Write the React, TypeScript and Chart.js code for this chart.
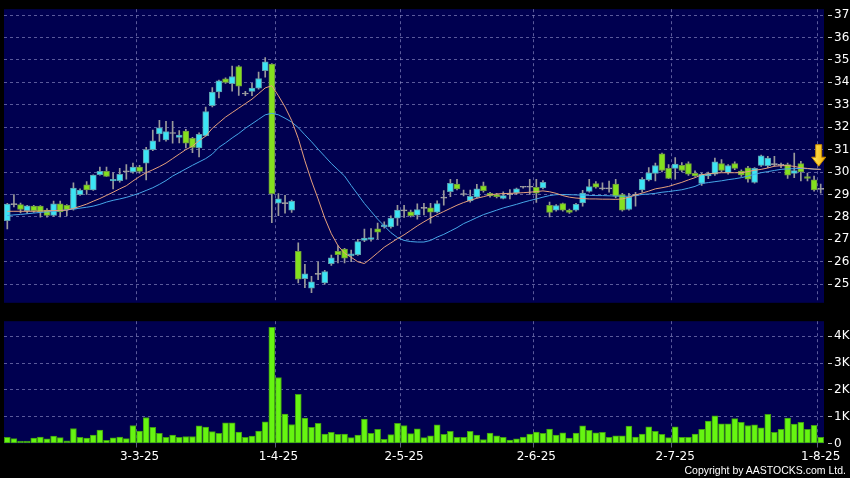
import React, { useEffect, useRef } from 'react';
import { Chart, registerables } from 'chart.js';

Chart.register(...registerables);

// ---- trading days (d-m-yy) ----
const febDays = [3, 4, 5, 6, 7, 10, 11, 12, 13, 14, 17, 18, 19, 20, 21, 24, 25, 26, 27, 28];
const marDays = [3, 4, 5, 6, 7, 10, 11, 12, 13, 14, 17, 18, 19, 20, 21, 24, 25, 26, 27, 28, 31];
const aprDays = [1, 2, 3, 7, 8, 9, 10, 11, 14, 15, 16, 17, 22, 23, 24, 25, 28, 29, 30];
const mayDays = [2, 6, 7, 8, 9, 12, 13, 14, 15, 16, 19, 20, 21, 22, 23, 26, 27, 28, 29, 30];
const junDays = [2, 3, 4, 5, 6, 9, 10, 11, 12, 13, 16, 17, 18, 19, 20, 23, 24, 25, 26, 27, 30];
const julDays = [2, 3, 4, 7, 8, 9, 10, 11, 14, 15, 16, 17, 18, 21, 22, 23, 24, 25, 28, 29, 30, 31];
const augDays = [1];

const dates: string[] = [
  ...febDays.map((d) => `${d}-2-25`),
  ...marDays.map((d) => `${d}-3-25`),
  ...aprDays.map((d) => `${d}-4-25`),
  ...mayDays.map((d) => `${d}-5-25`),
  ...junDays.map((d) => `${d}-6-25`),
  ...julDays.map((d) => `${d}-7-25`),
  ...augDays.map((d) => `${d}-8-25`),
];

const monthTicks = ['3-3-25', '1-4-25', '2-5-25', '2-6-25', '2-7-25', '1-8-25'];
const priceTicks = [25, 26, 27, 28, 29, 30, 31, 32, 33, 34, 35, 36, 37];
const volumeTicks = [0, 1000, 2000, 3000, 4000];

// ---- OHLC ----
const open = [
  27.83, 28.55, 28.55, 28.28, 28.48, 28.48, 28.3, 28.07, 28.58, 28.52,
  28.35, 28.99, 29.43, 29.2, 29.88, 30.03, 29.6, 29.62, 30.01, 30.0,
  30.22, 30.39, 31.0, 31.7, 31.43, 31.72, 31.54, 31.83, 31.5, 31.07,
  31.62, 32.96, 33.57, 34.16, 33.94, 34.7, 33.48, 33.59, 33.74, 34.52,
  34.81, 28.61, 28.59, 28.3, 26.46, 25.25, 24.82, 25.44, 25.06, 25.92,
  26.47, 26.56, 26.26, 26.32, 26.95, 27.0, 27.47, 27.56, 27.55, 27.94,
  28.27, 28.23, 28.08, 28.38, 28.4, 28.21, 28.84, 29.13, 29.46, 29.0,
  28.71, 28.88, 29.38, 29.05, 29.0, 28.82, 28.99, 29.07, 29.32, 29.32,
  29.32, 29.29, 28.52, 28.3, 28.59, 28.3, 28.3, 28.62, 29.14, 29.49,
  29.25, 29.25, 29.46, 29.0, 28.33, 28.96, 29.2, 29.65, 29.94, 30.81,
  30.16, 30.16, 30.3, 30.38, 29.94, 29.49, 29.83, 29.9, 30.38, 29.97,
  30.38, 30.04, 30.19, 29.54, 30.3, 30.28, 30.33, 30.3, 30.33, 29.94,
  30.38, 29.8, 29.65, 29.23,
];
const high = [
  28.6, 29.0, 28.62, 28.52, 28.52, 28.5, 28.37, 28.7, 28.7, 28.55,
  29.52, 29.25, 29.57, 29.88, 30.22, 30.22, 29.98, 30.16, 30.33, 30.4,
  30.3, 31.1, 31.87, 32.3, 32.26, 32.26, 31.85, 31.9, 31.55, 31.75,
  32.9, 33.76, 34.1, 34.2, 34.72, 34.75, 33.6, 33.96, 34.46, 35.1,
  34.84, 29.04, 28.96, 28.75, 26.84, 25.88, 25.35, 26.0, 25.62, 26.3,
  26.72, 26.6, 26.52, 27.0, 27.46, 27.48, 27.72, 27.78, 28.05, 28.52,
  28.52, 28.3, 28.58, 28.6, 28.6, 28.72, 29.17, 29.68, 29.68, 29.2,
  29.2, 29.45, 29.55, 29.1, 29.05, 29.12, 29.22, 29.28, 29.35, 29.68,
  29.68, 29.62, 28.66, 28.55, 28.62, 28.35, 28.6, 29.18, 29.68, 29.58,
  29.52, 29.6, 29.68, 29.05, 29.05, 29.1, 29.75, 30.2, 30.4, 30.84,
  30.33, 30.65, 30.42, 30.45, 30.05, 29.95, 30.0, 30.62, 30.55, 30.33,
  30.45, 30.1, 30.26, 30.2, 30.76, 30.7, 30.7, 30.4, 30.4, 30.84,
  30.48, 29.95, 29.82, 29.46,
];
const low = [
  27.46, 28.45, 28.18, 28.16, 28.2, 27.99, 27.99, 28.02, 28.0, 28.04,
  28.3, 28.96, 29.0, 29.18, 29.86, 29.81, 29.25, 29.55, 29.68, 29.95,
  29.95, 29.65, 30.95, 31.36, 31.38, 31.29, 31.3, 31.07, 30.86, 30.67,
  31.6, 32.9, 33.3, 33.95, 33.6, 33.42, 33.4, 33.4, 33.7, 34.23,
  27.74, 28.06, 28.17, 28.2, 25.06, 24.85, 24.62, 25.2, 25.0, 25.84,
  25.95, 25.95, 26.0, 26.28, 26.9, 26.92, 27.02, 27.5, 27.5, 27.62,
  27.98, 28.0, 27.9, 28.09, 27.72, 28.18, 28.52, 28.9, 29.2, 28.94,
  28.66, 28.85, 29.1, 28.88, 28.85, 28.8, 28.8, 29.0, 29.28, 29.0,
  28.64, 29.25, 28.0, 28.25, 28.25, 28.15, 28.25, 28.48, 29.1, 29.28,
  29.2, 29.1, 28.85, 28.25, 28.3, 28.48, 29.1, 29.6, 29.6, 30.0,
  29.7, 29.68, 30.0, 29.85, 29.8, 29.4, 29.7, 29.85, 30.0, 29.9,
  30.1, 29.8, 29.55, 29.5, 30.25, 30.2, 30.25, 30.2, 29.72, 29.75,
  29.6, 29.6, 29.15, 29.06,
];
const close = [
  28.57, 28.55, 28.33, 28.49, 28.28, 28.23, 28.07, 28.58, 28.22, 28.32,
  29.28, 29.2, 29.2, 29.86, 30.03, 29.81, 29.68, 29.9, 30.01, 30.22,
  30.03, 31.0, 31.39, 31.97, 31.8, 31.72, 31.65, 31.29, 31.1, 31.68,
  32.7, 33.57, 34.07, 34.0, 34.26, 33.83, 33.48, 33.74, 34.17, 34.91,
  29.04, 28.81, 28.59, 28.7, 25.22, 25.46, 25.1, 25.44, 25.56, 26.18,
  26.32, 26.16, 26.35, 26.9, 27.05, 27.08, 27.32, 27.65, 27.95, 28.3,
  28.27, 28.05, 28.33, 28.38, 28.21, 28.59, 28.84, 29.5, 29.25, 29.0,
  28.92, 29.25, 29.17, 28.94, 28.9, 28.95, 28.99, 29.25, 29.32, 29.32,
  29.06, 29.54, 28.2, 28.51, 28.3, 28.2, 28.56, 29.06, 29.35, 29.33,
  29.25, 29.25, 28.92, 28.3, 28.88, 28.96, 29.68, 29.97, 30.29, 30.07,
  29.72, 30.36, 30.07, 29.9, 29.83, 29.9, 29.93, 30.45, 30.07, 30.29,
  30.16, 29.87, 29.68, 30.16, 30.72, 30.62, 30.33, 30.3, 29.86, 30.07,
  30.01, 29.71, 29.2, 29.23,
];

// ---- moving averages ----
const ma10 = [
  28.25, 28.25, 28.25, 28.25, 28.25, 28.26, 28.27, 28.28, 28.29, 28.3,
  28.38, 28.47, 28.57, 28.7, 28.82, 28.96, 29.1, 29.25, 29.39, 29.6,
  29.8, 29.97, 30.1, 30.24, 30.4, 30.6, 30.8, 31.0, 31.15, 31.4,
  31.6, 31.95, 32.2, 32.45, 32.65, 32.85, 33.05, 33.25, 33.5, 33.75,
  33.85, 33.4, 32.9, 32.3, 31.5, 30.5, 29.6, 28.8, 27.95, 27.25,
  26.72, 26.38, 26.2, 26.0, 25.92, 26.15, 26.4, 26.65, 26.84, 27.03,
  27.2, 27.4, 27.6, 27.78, 27.95, 28.1, 28.24, 28.38, 28.52, 28.64,
  28.74, 28.83, 28.9, 28.98, 29.02, 29.04, 29.05, 29.06, 29.08, 29.1,
  29.13, 29.16, 29.12, 29.05, 28.95, 28.88, 28.84, 28.82, 28.8, 28.8,
  28.79, 28.79, 28.78, 28.8, 28.88, 28.98, 29.06, 29.15, 29.25, 29.3,
  29.36, 29.45, 29.54, 29.65, 29.75, 29.88, 29.92, 29.95, 29.97, 29.97,
  29.97, 29.97, 30.02, 30.08, 30.12, 30.18, 30.26, 30.28, 30.29, 30.25,
  30.19, 30.16, 30.13, 30.12,
];
const ma20 = [
  28.06, 28.09, 28.11, 28.14, 28.17, 28.2, 28.22, 28.25, 28.28, 28.31,
  28.35, 28.39, 28.43, 28.48, 28.56, 28.66, 28.74, 28.8, 28.87, 28.96,
  29.06, 29.18, 29.3, 29.45, 29.62, 29.82, 29.98, 30.14, 30.3, 30.45,
  30.6, 30.8, 31.1, 31.3, 31.52, 31.72, 31.95, 32.15, 32.35, 32.55,
  32.62, 32.55, 32.4, 32.23, 31.98, 31.66, 31.35, 31.02, 30.7, 30.38,
  30.1, 29.82, 29.4, 29.0, 28.6, 28.25, 27.9, 27.6, 27.3, 27.08,
  26.95, 26.9, 26.88, 26.88, 26.95, 27.1, 27.22, 27.37, 27.52, 27.7,
  27.83, 27.97, 28.1, 28.2, 28.3, 28.4, 28.48, 28.56, 28.65, 28.73,
  28.8, 28.88, 28.95, 28.99, 29.0, 28.99, 28.98, 28.97, 28.96, 28.95,
  28.95, 28.94, 28.93, 28.92, 28.92, 28.95, 29.0, 29.02, 29.05, 29.1,
  29.13, 29.17, 29.21, 29.28, 29.36, 29.49, 29.53, 29.57, 29.61, 29.66,
  29.7, 29.75, 29.82, 29.9, 29.97, 30.02, 30.07, 30.12, 30.14, 30.15,
  30.16, 30.15, 30.13, 30.12,
];

// ---- volume ----
const volume = [
  230, 180, 90, 90, 200, 240, 170, 280, 220, 100,
  560, 230, 200, 310, 500, 120, 210, 240, 180, 670,
  460, 970, 600, 380, 230, 310, 230, 260, 260, 660,
  610, 440, 380, 770, 770, 430, 230, 280, 460, 810,
  4330, 2460, 1100, 710, 1830, 950, 600, 750, 350, 420,
  340, 350, 220, 310, 910, 380, 530, 160, 330, 750,
  670, 370, 550, 220, 290, 700, 340, 450, 230, 230,
  450, 310, 150, 390, 290, 230, 130, 170, 240, 350,
  430, 380, 540, 310, 400, 200, 390, 660, 490, 400,
  420, 230, 290, 290, 650, 240, 350, 620, 450, 340,
  220, 620, 230, 230, 350, 530, 840, 1030, 730, 730,
  930, 790, 670, 700, 580, 1090, 420, 530, 950, 720,
  790, 530, 680, 230,
];

// marker arrow (price levels of its top and tip)
const arrowTopPrice = 31.22;
const arrowTipPrice = 30.26;

const UP = '#3ce4f4';
const UP_EDGE = '#5c9fae';
const DOWN = '#84e01e';
const DOWN_EDGE = '#6f9a3e';
const FLAT = '#a6a6a6';
const WICK = '#9a9a9a';
const GRID = 'rgba(150,150,205,0.6)';
const PLOT_BG = '#000050';
const FONT = { family: 'DejaVu Sans', size: 12 };

const dir = close.map((c, i) => (c > open[i] ? 1 : c < open[i] ? -1 : 0));

const plotBg = {
  id: 'plotBg',
  beforeDraw(chart: any) {
    const { ctx, chartArea: a } = chart;
    ctx.save();
    ctx.fillStyle = PLOT_BG;
    ctx.fillRect(a.left, a.top, a.right - a.left, a.bottom - a.top);
    ctx.restore();
  },
};

const arrowMarker = {
  id: 'arrowMarker',
  afterDatasetsDraw(chart: any) {
    const { ctx } = chart;
    const x = chart.scales.x.getPixelForValue(dates.length - 1) - 2;
    const yTop = chart.scales.y.getPixelForValue(arrowTopPrice);
    const yTip = chart.scales.y.getPixelForValue(arrowTipPrice);
    const headH = 9;
    const shaftW = 3;
    const headW = 7;
    ctx.save();
    ctx.beginPath();
    ctx.moveTo(x - shaftW, yTop);
    ctx.lineTo(x + shaftW, yTop);
    ctx.lineTo(x + shaftW, yTip - headH);
    ctx.lineTo(x + headW, yTip - headH);
    ctx.lineTo(x, yTip);
    ctx.lineTo(x - headW, yTip - headH);
    ctx.lineTo(x - shaftW, yTip - headH);
    ctx.closePath();
    const g = ctx.createLinearGradient(x - headW, 0, x + headW, 0);
    g.addColorStop(0, '#ffe866');
    g.addColorStop(1, '#f5b400');
    ctx.fillStyle = g;
    ctx.fill();
    ctx.strokeStyle = '#c98a00';
    ctx.lineWidth = 1;
    ctx.stroke();
    ctx.restore();
  },
};

const monthGridColor = (ctx: any) =>
  ctx.index !== undefined && monthTicks.includes(dates[ctx.index]) ? GRID : 'transparent';

export default function App() {
  const priceRef = useRef<HTMLCanvasElement | null>(null);
  const volRef = useRef<HTMLCanvasElement | null>(null);

  useEffect(() => {
    document.body.style.margin = '0';
    document.body.style.background = '#000';

    const priceChart = new Chart(priceRef.current as HTMLCanvasElement, {
      type: 'bar',
      data: {
        labels: dates,
        datasets: [
          {
            type: 'line',
            label: 'MA10',
            data: ma10,
            borderColor: '#e6a07c',
            borderWidth: 1,
            pointRadius: 0,
            tension: 0,
            order: 0,
          } as any,
          {
            type: 'line',
            label: 'MA20',
            data: ma20,
            borderColor: '#46a6e8',
            borderWidth: 1,
            pointRadius: 0,
            tension: 0,
            order: 0,
          } as any,
          {
            type: 'bar',
            label: 'Body',
            data: dates.map((_, i) => [open[i], close[i]]),
            backgroundColor: dir.map((d) => (d > 0 ? UP : d < 0 ? DOWN : FLAT)),
            borderColor: dir.map((d) => (d > 0 ? UP_EDGE : d < 0 ? DOWN_EDGE : FLAT)),
            borderWidth: 1,
            borderSkipped: false,
            barThickness: 6,
            minBarLength: 1,
            grouped: false,
            order: 1,
          } as any,
          {
            type: 'bar',
            label: 'Wick',
            data: dates.map((_, i) => [low[i], high[i]]),
            backgroundColor: WICK,
            barThickness: 1,
            grouped: false,
            order: 2,
          } as any,
        ],
      },
      options: {
        responsive: false,
        animation: false,
        layout: { padding: { left: 4, top: 4, bottom: 7, right: 0 } },
        plugins: { legend: { display: false }, tooltip: { enabled: false } },
        scales: {
          x: {
            type: 'category',
            offset: true,
            grid: { offset: true, color: monthGridColor, drawTicks: false },
            border: { display: false, dash: [3, 3] },
            ticks: { display: false, autoSkip: false },
            afterFit: (s: any) => {
              s.height = 0;
            },
          },
          y: {
            position: 'right',
            min: 24.17,
            max: 37.26,
            afterBuildTicks: (s: any) => {
              s.ticks = priceTicks.map((v) => ({ value: v }));
            },
            afterFit: (s: any) => {
              s.width = 26;
            },
            grid: { color: GRID, tickColor: '#c8c8c8', tickLength: 8, tickBorderDash: [0, 4, 4, 30] },
            border: { display: false, dash: [3, 3] },
            ticks: { color: '#ffffff', font: FONT, padding: 2 },
          },
        },
      } as any,
      plugins: [plotBg, arrowMarker],
    });

    const volChart = new Chart(volRef.current as HTMLCanvasElement, {
      type: 'bar',
      data: {
        labels: dates,
        datasets: [
          {
            label: 'Volume',
            data: volume,
            backgroundColor: '#66f511',
            borderColor: '#3f9c12',
            borderWidth: 1,
            borderSkipped: false,
            barThickness: 6,
          } as any,
        ],
      },
      options: {
        responsive: false,
        animation: false,
        layout: { padding: { left: 4, top: 7, bottom: 12.5, right: 0 } },
        plugins: { legend: { display: false }, tooltip: { enabled: false } },
        scales: {
          x: {
            type: 'category',
            offset: true,
            grid: { offset: true, color: monthGridColor, tickColor: monthGridColor, tickLength: 4 },
            border: { display: false, dash: [3, 3] },
            ticks: {
              autoSkip: false,
              maxRotation: 0,
              color: '#ffffff',
              font: FONT,
              padding: 2,
              callback: (_v: any, i: number) => (monthTicks.includes(dates[i]) ? dates[i] : ''),
            },
            afterFit: (s: any) => {
              s.height = 22;
            },
          },
          y: {
            position: 'right',
            min: 0,
            max: 4560,
            afterBuildTicks: (s: any) => {
              s.ticks = volumeTicks.map((v) => ({ value: v }));
            },
            afterFit: (s: any) => {
              s.width = 26;
            },
            grid: {
              color: (ctx: any) => (ctx.tick && ctx.tick.value === 0 ? 'transparent' : GRID),
              tickColor: '#c8c8c8',
              tickLength: 8,
              tickBorderDash: [0, 4, 4, 30],
            },
            border: { display: false, dash: [3, 3] },
            ticks: {
              color: '#ffffff',
              font: FONT,
              padding: 2,
              callback: (v: number) => (v === 0 ? '0' : `${v / 1000}K`),
            },
          },
        },
      } as any,
      plugins: [plotBg],
    });

    return () => {
      priceChart.destroy();
      volChart.destroy();
    };
  }, []);

  return (
    <div style={{ position: 'fixed', left: 0, top: 0, width: 850, height: 478, background: '#000', overflow: 'hidden' }}>
      <canvas ref={priceRef} width={850} height={312} style={{ position: 'absolute', left: 0, top: 0 }} />
      <canvas ref={volRef} width={850} height={166} style={{ position: 'absolute', left: 0, top: 312 }} />
      <div
        style={{
          position: 'absolute',
          right: 4,
          top: 464,
          color: '#ffffff',
          fontFamily: '"Liberation Sans", Arial, sans-serif',
          fontSize: 10.5,
          lineHeight: '13px',
          whiteSpace: 'nowrap',
        }}
      >
        Copyright by AASTOCKS.com Ltd.
      </div>
    </div>
  );
}
